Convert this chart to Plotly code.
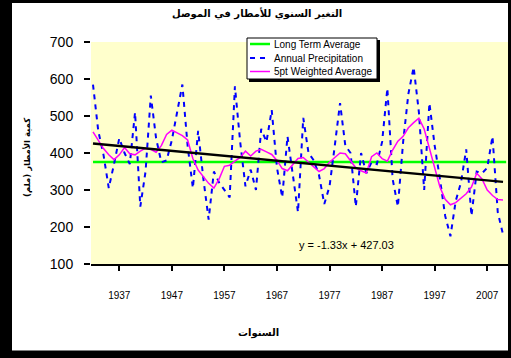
import plotly.graph_objects as go

# ---------------- data ----------------
years = list(range(1932, 2011))
annual_precip = [585, 460, 395, 305, 370, 440, 400, 370, 510, 255,
                 350, 555, 440, 375, 380, 435, 510, 585, 420, 305,
                 460, 330, 220, 350, 320, 300, 280, 580, 430, 310,
                 355, 300, 465, 430, 516, 360, 280, 445, 340, 240,
                 495, 400, 380, 340, 262, 310, 420, 535, 420, 400,
                 255, 400, 345, 375, 370, 430, 575, 330, 255, 430,
                 560, 632, 510, 300, 535, 420, 330, 230, 175, 270,
                 320, 410, 230, 350, 345, 360, 445, 240, 180]
weighted_avg = [457, 435, 412, 395, 382, 395, 415, 398, 395, 405,
                413, 410, 402, 420, 450, 462, 455, 447, 435, 385,
                354, 335, 318, 305, 330, 364, 367, 378, 388, 405,
                392, 405, 410, 403, 396, 380, 358, 352, 368, 385,
                388, 376, 362, 350, 358, 375, 388, 400, 398, 378,
                360, 352, 346, 390, 400, 385, 378, 408, 432, 445,
                468, 482, 494, 465, 415, 360, 308, 275, 260, 266,
                278, 290, 308, 345, 330, 300, 285, 274, 273]
long_term_avg = 376
trend_slope = -1.33
trend_intercept = 427.03
tick_years = [1937, 1947, 1957, 1967, 1977, 1987, 1997, 2007]
tick_labels = [str(y) for y in tick_years]

title_text = "التغير السنوي للأمطار في الموصل"
y_title = "كمية الأمطار (ملم)"
x_title = "السنوات"
legend_names = ["Long Term Average", "Annual Precipitation", "5pt Weighted Average"]
equation_text = "y = -1.33x + 427.03"

# trend line from the equation shown on the chart (x = 1..n)
trend_vals = [trend_slope * (i + 1) + trend_intercept for i in range(len(years))]

W, H = 511, 358
L, R, T, B = 91, 3, 42, 94
PW, PH = W - L - R, H - T - B


def px(x):
    return (x - L) / PW


def py(y):
    return (H - B - y) / PH


fig = go.Figure()
fig.add_trace(go.Scatter(x=[years[0], years[-1] + 0.6], y=[long_term_avg, long_term_avg],
                         mode="lines", line=dict(color="#00FF00", width=2.5),
                         name=legend_names[0], showlegend=False))
fig.add_trace(go.Scatter(x=years, y=annual_precip, mode="lines",
                         line=dict(color="#0000FF", width=2, dash="5px,5px"),
                         name=legend_names[1], showlegend=False))
fig.add_trace(go.Scatter(x=years, y=weighted_avg, mode="lines",
                         line=dict(color="#FF00FF", width=1.5),
                         name=legend_names[2], showlegend=False))
fig.add_trace(go.Scatter(x=years, y=trend_vals, mode="lines",
                         line=dict(color="black", width=2.4),
                         name="Linear trend", showlegend=False))

shapes = []
# black frame around the picture
frame = [(-0.5, 12, -0.5, 358.5), (-0.5, 511.5, -0.5, 3), (508, 511.5, -0.5, 358.5), (-0.5, 511.5, 350.5, 358.5)]
for x0, x1, y0, y1 in frame:
    shapes.append(dict(type="rect", xref="paper", yref="paper", x0=px(x0), x1=px(x1),
                       y0=py(y1), y1=py(y0), fillcolor="black", line=dict(width=0), layer="above"))
# legend box with shadow
shapes.append(dict(type="rect", xref="paper", yref="paper", x0=px(249), x1=px(380), y0=py(82), y1=py(40),
                   fillcolor="black", line=dict(width=0), layer="above"))
shapes.append(dict(type="rect", xref="paper", yref="paper", x0=px(247), x1=px(377), y0=py(79), y1=py(38),
                   fillcolor="white", line=dict(color="black", width=1), layer="above"))
rows = [44, 58, 71.5]
samples = [dict(color="#00FF00", width=2.5), dict(color="#0000FF", width=2, dash="5px,5px"),
           dict(color="#FF00FF", width=1.5)]
for ry, ln in zip(rows, samples):
    shapes.append(dict(type="line", xref="paper", yref="paper", x0=px(250), x1=px(270), y0=py(ry), y1=py(ry),
                       line=ln, layer="above"))

annotations = []
for ry, name in zip(rows, legend_names):
    annotations.append(dict(x=px(272), y=py(ry), xref="paper", yref="paper", text=name, showarrow=False,
                            xanchor="left", yanchor="middle", font=dict(size=10, color="black",
                                                                           family="Liberation Sans, Arial")))
annotations.append(dict(x=px(346), y=py(245), xref="paper", yref="paper", text=equation_text, showarrow=False,
                        xanchor="center", yanchor="middle",
                        font=dict(size=11, color="black", family="Liberation Sans, Arial")))
annotations.append(dict(x=px(257), y=py(14), xref="paper", yref="paper", text="<b>" + title_text + "</b>",
                        showarrow=False, xanchor="center", yanchor="middle",
                        font=dict(size=10, color="black", family="DejaVu Sans")))
annotations.append(dict(x=px(258), y=py(333), xref="paper", yref="paper", text="<b>" + x_title + "</b>",
                        showarrow=False, xanchor="center", yanchor="middle",
                        font=dict(size=10, color="black", family="DejaVu Sans")))
annotations.append(dict(x=px(27), y=py(158), xref="paper", yref="paper", text="<b>" + y_title + "</b>",
                        showarrow=False, xanchor="center", yanchor="middle", textangle=-90,
                        font=dict(size=8.5, color="black", family="DejaVu Sans")))

fig.update_layout(
    width=W, height=H, margin=dict(l=L, r=R, t=T, b=B, autoexpand=False),
    paper_bgcolor="white", plot_bgcolor="#FFFFCC",
    showlegend=False, shapes=shapes, annotations=annotations,
    xaxis=dict(range=[1931.62, 2010.95], tickmode="array", tickvals=tick_years, ticktext=tick_labels,
               showgrid=False, zeroline=False, showline=True, linecolor="black", linewidth=1.5,
               ticks="outside", ticklen=5, tickcolor="black", tickwidth=1.5, ticklabelstandoff=16,
               tickfont=dict(size=10, color="black", family="Liberation Sans, Arial")),
    yaxis=dict(range=[100, 700], tickvals=[100, 200, 300, 400, 500, 600, 700],
               showgrid=False, zeroline=False, showline=False,
               ticks="outside", ticklen=6, tickcolor="black", tickwidth=1.5, ticklabelstandoff=8,
               tickfont=dict(size=14, color="black", family="Liberation Sans, Arial")),
)

fig.write_html("out.html", config={"displayModeBar": False},
               post_script="document.body.style.margin='0';document.body.style.overflow='hidden';")
